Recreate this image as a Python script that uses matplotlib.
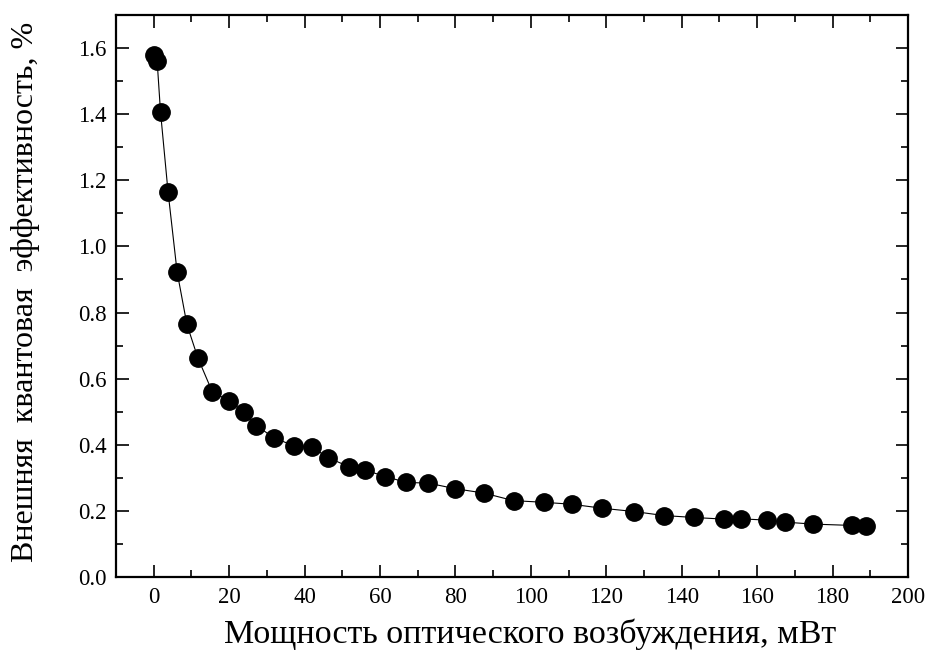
import matplotlib.pyplot as plt
from matplotlib.ticker import MultipleLocator

# --- data ---
power_mw = [0.0, 0.9, 1.8, 3.8, 6.2, 8.8, 11.7, 15.5, 19.9, 23.9, 27.2, 31.9,
            37.1, 41.9, 46.2, 51.9, 56.1, 61.4, 67.0, 72.8, 80.0, 87.5, 95.4,
            103.4, 110.9, 118.9, 127.4, 135.2, 143.3, 151.3, 155.7, 162.6,
            167.4, 174.8, 185.1, 188.9]
eqe_pct = [1.579, 1.562, 1.407, 1.165, 0.923, 0.764, 0.663, 0.561, 0.533, 0.500,
           0.458, 0.421, 0.397, 0.394, 0.361, 0.333, 0.323, 0.304, 0.286, 0.284,
           0.267, 0.254, 0.231, 0.226, 0.220, 0.208, 0.198, 0.186, 0.180, 0.175,
           0.176, 0.172, 0.166, 0.160, 0.156, 0.155]

xlabel = "Мощность оптического возбуждения, мВт"
ylabel = "Внешняя  квантовая  эффективность, %"

plt.rcParams['font.family'] = ['Liberation Serif', 'DejaVu Serif']

fig = plt.figure(figsize=(9.31, 6.58), dpi=100)
ax = fig.add_axes([0.1246, 0.1231, 0.8507, 0.8541])

ax.plot(power_mw, eqe_pct, color='black', linewidth=0.8,
        marker='o', markersize=12.5, markerfacecolor='black', markeredgecolor='black')

ax.set_xlim(-10, 200)
ax.set_ylim(0, 1.7)
ax.xaxis.set_major_locator(MultipleLocator(20))
ax.xaxis.set_minor_locator(MultipleLocator(10))
ax.yaxis.set_major_locator(MultipleLocator(0.2))
ax.yaxis.set_minor_locator(MultipleLocator(0.1))
ax.yaxis.set_major_formatter(plt.FuncFormatter(lambda v, p: f"{v:.1f}"))

ax.tick_params(which='both', direction='in', top=True, right=True,
               labelsize=16.5, width=1.2, pad=7)
ax.tick_params(which='major', length=9)
ax.tick_params(which='minor', length=5)
for s in ax.spines.values():
    s.set_linewidth(1.6)

ax.set_xlabel(xlabel, fontsize=24.5, labelpad=8)
ax.set_ylabel(ylabel, fontsize=23, labelpad=27)
# label centres in the original sit a little off the axes centre
ax.xaxis.label.set_x(0.523)
ax.yaxis.label.set_y(0.507)

plt.savefig("out.png", dpi=100)
